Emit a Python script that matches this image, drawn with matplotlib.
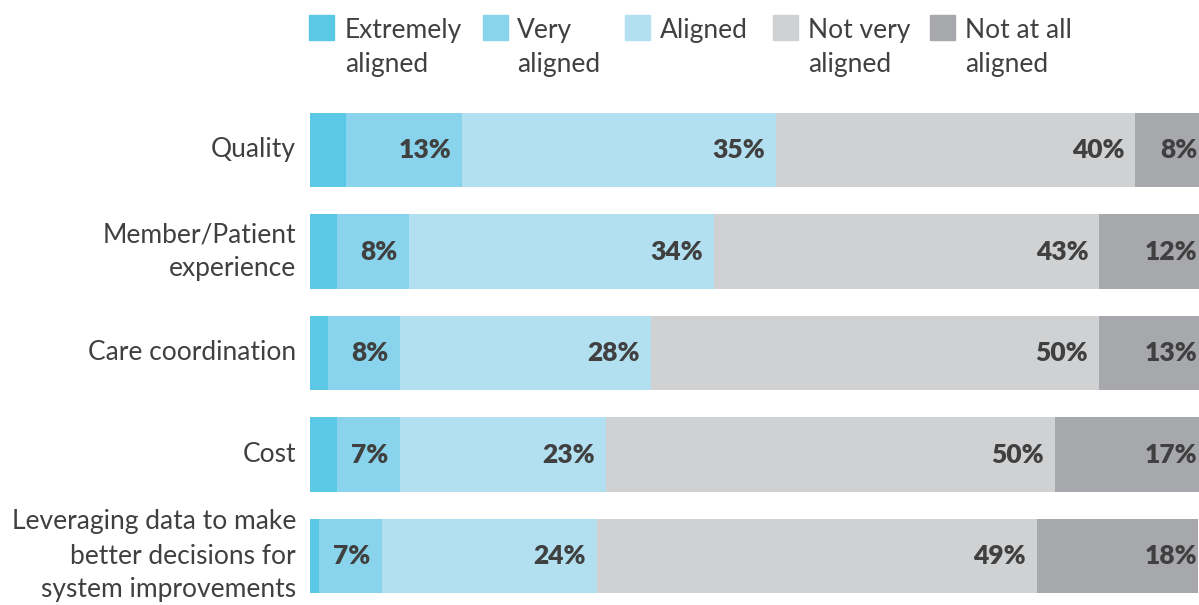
import matplotlib
matplotlib.use('Agg')
import matplotlib.pyplot as plt
from matplotlib.patches import Rectangle
from matplotlib.transforms import blended_transform_factory

plt.rcParams['font.family'] = ['Lato', 'DejaVu Sans']

categories = ['Quality', 'Member/Patient\nexperience', 'Care coordination', 'Cost',
              'Leveraging data to make\nbetter decisions for\nsystem improvements']
series = ['Extremely\naligned', 'Very\naligned', 'Aligned', 'Not very\naligned', 'Not at all\naligned']
extremely = [4, 3, 2, 3, 1]
very = [13, 8, 8, 7, 7]
aligned = [35, 34, 28, 23, 24]
not_very = [40, 43, 50, 50, 49]
not_at_all = [8, 12, 13, 17, 18]

colors = ['#5bc9e5', '#89d4ec', '#b2e0f0', '#d0d1d3', '#a7a8ac']
text_color = '#404040'

W, H = 1199, 605
fig = plt.figure(figsize=(W / 100, H / 100), dpi=100)

# axes spans from the bar start to the right edge of the figure
x0_px, top_px, row_px = 310, 99.25, 101.5
ax = fig.add_axes([x0_px / W, 0, 1 - x0_px / W, 1 - top_px / H])
px_per_pct = 8.97
ax.set_xlim(0, (W - x0_px) / px_per_pct)
ax.set_ylim(-0.5 + (H - top_px) / row_px, -0.5)
ax.axis('off')

rows = range(len(categories))
left = [0] * len(categories)
data = [extremely, very, aligned, not_very, not_at_all]
for k, (vals, col) in enumerate(zip(data, colors)):
    ax.barh(list(rows), vals, left=left, height=0.73, color=col, edgecolor='none')
    for i, v in enumerate(vals):
        end = left[i] + v
        if k == 0:
            continue
        if k == len(data) - 1:
            tr = blended_transform_factory(ax.transAxes, ax.transData)
            ax.annotate(f'{v}%', xy=(1, i), xycoords=tr, xytext=(-1, 0),
                        textcoords='offset points', ha='right', va='center',
                        fontsize=19, fontweight='heavy', color=text_color)
        else:
            ax.annotate(f'{v}%', xy=(end, i), xytext=(-8, 0),
                        textcoords='offset points', ha='right', va='center',
                        fontsize=19, fontweight='heavy', color=text_color)
    left = [l + v for l, v in zip(left, vals)]

for i, cat in enumerate(categories):
    ax.annotate(cat, xy=(0, i), xytext=(-10, 0), textcoords='offset points',
                ha='right', va='center', fontsize=19, color=text_color,
                linespacing=1.45, annotation_clip=False)

# legend drawn by hand across the top
sq_x = [309, 483, 625, 773, 930]
txt_x = [345, 517, 660, 808, 965]
for sx, tx, lab, col in zip(sq_x, txt_x, series, colors):
    fig.patches.append(Rectangle((sx / W, 1 - 40 / H), 25 / W, 25 / H,
                                 transform=fig.transFigure, color=col))
    fig.text(tx / W, 1 - 18 / H, lab, ha='left', va='top', fontsize=19,
             color=text_color, linespacing=1.45)

fig.savefig('out.png', dpi=100)
